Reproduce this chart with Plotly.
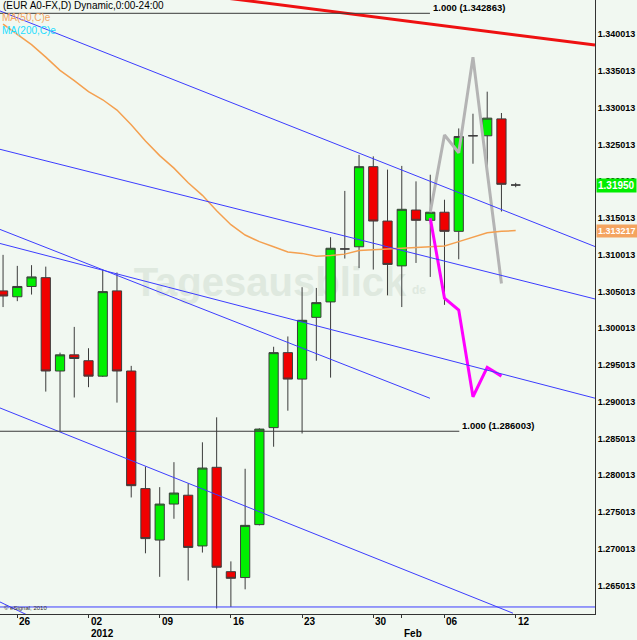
import plotly.graph_objects as go

# ---------------- data ----------------
dates = ["2011-12-23", "2011-12-26", "2011-12-27", "2011-12-28", "2011-12-29", "2011-12-30",
         "2012-01-02", "2012-01-03", "2012-01-04", "2012-01-05", "2012-01-06",
         "2012-01-09", "2012-01-10", "2012-01-11", "2012-01-12", "2012-01-13",
         "2012-01-16", "2012-01-17", "2012-01-18", "2012-01-19", "2012-01-20",
         "2012-01-23", "2012-01-24", "2012-01-25", "2012-01-26", "2012-01-27",
         "2012-01-30", "2012-01-31", "2012-02-01", "2012-02-02", "2012-02-03",
         "2012-02-06", "2012-02-07", "2012-02-08", "2012-02-09", "2012-02-10",
         "2012-02-13"]
opens = [1.3051, 1.3043, 1.3057, 1.3069, 1.2942, 1.2964,
         1.2956, 1.2935, 1.3051, 1.2942, 1.2782,
         1.2712, 1.2761, 1.2773, 1.2704, 1.2811,
         1.2669, 1.2661, 1.2733, 1.2865, 1.2967,
         1.2931, 1.3015, 1.3036, 1.3108, 1.3111,
         1.3220, 1.3146, 1.3085, 1.3161, 1.3147,
         1.3158, 1.3132, 1.3262, 1.3262, 1.3285,
         1.3195]
highs = [1.3100, 1.3085, 1.3086, 1.3084, 1.2967, 1.3002,
         1.2973, 1.3080, 1.3076, 1.2949, 1.2812,
         1.2784, 1.2818, 1.2789, 1.2845, 1.2879,
         1.2683, 1.2809, 1.2864, 1.2975, 1.2989,
         1.3056, 1.3055, 1.3124, 1.3187, 1.3236,
         1.3234, 1.3216, 1.3221, 1.3200, 1.3209,
         1.3175, 1.3272, 1.3292, 1.3322, 1.3293,
         1.3198]
lows = [1.3029, 1.3037, 1.3046, 1.2914, 1.2860, 1.2906,
        1.2920, 1.2934, 1.2899, 1.2770, 1.2694,
        1.2662, 1.2741, 1.2657, 1.2695, 1.2619,
        1.2621, 1.2645, 1.2732, 1.2839, 1.2888,
        1.2857, 1.2956, 1.2933, 1.3095, 1.3082,
        1.3080, 1.3045, 1.3029, 1.3089, 1.3070,
        1.3032, 1.3094, 1.3224, 1.3218, 1.3159,
        1.3192]
closes = [1.3044, 1.3057, 1.3070, 1.2942, 1.2964, 1.2959,
          1.2935, 1.3050, 1.2942, 1.2786, 1.2714,
          1.2761, 1.2776, 1.2702, 1.2810, 1.2675,
          1.2660, 1.2732, 1.2863, 1.2967, 1.2931,
          1.3011, 1.3035, 1.3109, 1.3108, 1.3220,
          1.3146, 1.3087, 1.3162, 1.3147, 1.3158,
          1.3132, 1.3261, 1.3262, 1.3286, 1.3196,
          1.3195]
ma50 = [1.3414, 1.3400, 1.3386, 1.3369, 1.3351, 1.3337,
        1.3322, 1.3311, 1.3297, 1.3277, 1.3255,
        1.3235, 1.3218, 1.3198, 1.3181, 1.3160,
        1.3141, 1.3127, 1.3118, 1.3111, 1.3104,
        1.3102, 1.3098, 1.3099, 1.3101, 1.3106,
        1.3107, 1.3108, 1.3108, 1.3109, 1.3110,
        1.3112, 1.3118, 1.3124, 1.3130, 1.3132,
        1.3133]

# projections (from Feb 3 to Feb 10)
proj_idx = [29, 30, 31, 32, 33, 34]
proj_grey = [1.3158, 1.3263, 1.3239, 1.3369, 1.3213, 1.3061]
proj_magenta = [1.3150, 1.3041, 1.3025, 1.2907, 1.2947, 1.2935]

# trend lines: (x0, p0, x1, p1) in bar-index / price units
blue_lines = [
    (-1.215, 1.34318, 40.57, 1.31113),
    (-1.215, 1.32436, 40.57, 1.30400),
    (-1.215, 1.31346, 28.98, 1.29049),
    (-1.215, 1.31155, 40.57, 1.29050),
    (-1.215, 1.28917, 34.81, 1.26125),
    (-1.215, 1.26278, 2.00, 1.25980),
    (-1.215, 1.26210, 40.57, 1.26210),
]
red_line = (10.0, 1.34609, 40.57, 1.33855)
fib_levels = [1.342863, 1.286003]
fib_end_idx = [28.98, 31.04]
fib_texts = ["1.000 (1.342863)", "1.000 (1.286003)"]

y_tick_labels = ["1.265013", "1.270013", "1.275013", "1.280013", "1.285013", "1.290013",
                 "1.295013", "1.300013", "1.305013", "1.310013", "1.315013", "1.320013",
                 "1.325013", "1.330013", "1.335013", "1.340013"]
x_tick_idx = [0, 5, 10, 15, 20, 25, 30, 35]
x_tick_text = ["26", "02", "09", "16", "23", "30", "06", "12"]
x_major_idx = [5, 27]
x_major_text = ["2012", "Feb"]

last_price = 1.3195
ma_last = 1.313217

# ---------------- figure ----------------
W, H = 637, 640
PL, PR, PT, PB = 0, 595, 0, 614
X_RANGE = [-1.215, 40.57]
Y_RANGE = [1.261143, 1.344672]
BG = "#F1F8F1"
FONT = "Liberation Sans"

def yp(ypx):
    return (PB - ypx) / (PB - PT)

def xp(xpx):
    return (xpx - PL) / (PR - PL)

x_idx = list(range(-1, len(dates) - 1))

fig = go.Figure()

# grey projection (behind candles)
fig.add_trace(go.Scatter(x=proj_idx, y=proj_grey, mode="lines",
                         line=dict(color="#B4B4B4", width=3), hoverinfo="skip", showlegend=False))
# MA50
fig.add_trace(go.Scatter(x=x_idx, y=ma50, mode="lines",
                         line=dict(color="#F4A050", width=1.5), hoverinfo="skip", showlegend=False))
# magenta projection
fig.add_trace(go.Scatter(x=proj_idx, y=proj_magenta, mode="lines",
                         line=dict(color="#FF00FF", width=3), hoverinfo="skip", showlegend=False))

# candles
fig.add_trace(go.Candlestick(
    x=x_idx, open=opens, high=highs, low=lows, close=closes,
    increasing=dict(fillcolor="#00F000", line=dict(color="#3C3C3C", width=1)),
    decreasing=dict(fillcolor="#F00000", line=dict(color="#3C3C3C", width=1)),
    whiskerwidth=0, hoverinfo="skip", showlegend=False))

# blue trend lines
for (x0, p0, x1, p1) in blue_lines:
    fig.add_trace(go.Scatter(x=[x0, x1], y=[p0, p1], mode="lines",
                             line=dict(color="#3C3CFF", width=1), hoverinfo="skip", showlegend=False))
# red line
fig.add_trace(go.Scatter(x=[red_line[0], red_line[2]], y=[red_line[1], red_line[3]], mode="lines",
                         line=dict(color="#EE1111", width=3), hoverinfo="skip", showlegend=False))
# fib lines
for lvl, xe in zip(fib_levels, fib_end_idx):
    fig.add_trace(go.Scatter(x=[X_RANGE[0], xe], y=[lvl, lvl], mode="lines",
                             line=dict(color="#3A3A3A", width=1), hoverinfo="skip", showlegend=False))

annotations = []
# title & legend
annotations.append(dict(xref="paper", yref="paper", x=xp(1), y=yp(5.5), xanchor="left", yanchor="middle",
                        text="(EUR A0-FX,D) Dynamic,0:00-24:00", showarrow=False,
                        font=dict(family=FONT, size=10, color="#000000")))
annotations.append(dict(xref="paper", yref="paper", x=xp(0), y=yp(17.5), xanchor="left", yanchor="middle",
                        text="MA(50,C)e", showarrow=False,
                        font=dict(family=FONT, size=10, color="#F4A460")))
annotations.append(dict(xref="paper", yref="paper", x=xp(0), y=yp(30), xanchor="left", yanchor="middle",
                        text="MA(200,C)e", showarrow=False,
                        font=dict(family=FONT, size=10, color="#22DDFF")))
# fib labels
for lvl, xe, t in zip(fib_levels, fib_end_idx, fib_texts):
    annotations.append(dict(xref="x", yref="y", x=xe, y=lvl, xanchor="left", yanchor="middle",
                            xshift=1, yshift=6, text=t, showarrow=False,
                            font=dict(family=FONT, size=9.5, color="#000000", weight="bold")))
# copyright
annotations.append(dict(xref="paper", yref="paper", x=xp(2), y=yp(608), xanchor="left", yanchor="middle",
                        text="© eSignal, 2010", showarrow=False,
                        font=dict(family=FONT, size=6, color="#333333")))
# x tick labels (left aligned at ticks)
for xi, t in zip(x_tick_idx, x_tick_text):
    annotations.append(dict(xref="x", yref="paper", x=xi, y=yp(621.7), xanchor="left", yanchor="middle",
                            text=t, showarrow=False,
                            font=dict(family=FONT, size=10, color="#000000", weight="bold")))
for xi, t in zip(x_major_idx, x_major_text):
    annotations.append(dict(xref="x", yref="paper", x=xi, y=yp(633.3), xanchor="left", yanchor="middle",
                            text=t, showarrow=False,
                            font=dict(family=FONT, size=10, color="#000000", weight="bold")))
# price boxes on the axis
annotations.append(dict(xref="paper", yref="y", x=1, y=last_price, xanchor="left", yanchor="middle",
                        xshift=1, text="%.5f" % last_price, showarrow=False, bgcolor="#00EE00", borderpad=1,
                        font=dict(family=FONT, size=10, color="#FFFFFF", weight="bold")))
annotations.append(dict(xref="paper", yref="y", x=1, y=ma_last, xanchor="left", yanchor="middle",
                        xshift=1, text="%.6f" % ma_last, showarrow=False, bgcolor="#F4A460", borderpad=1,
                        font=dict(family=FONT, size=9, color="#FFFFFF", weight="bold")))

shapes = [
    dict(type="rect", xref="paper", yref="paper", x0=xp(138), x1=xp(402), y0=yp(300), y1=yp(256),
         layer="below", line=dict(width=0), fillcolor="rgba(0,0,0,0)",
         label=dict(text="Tagesausblick", textposition="middle center",
                    font=dict(family=FONT, size=40, color="#DFE9DF", weight="bold"))),
    dict(type="rect", xref="paper", yref="paper", x0=xp(408), x1=xp(430), y0=yp(296), y1=yp(282),
         layer="below", line=dict(width=0), fillcolor="rgba(0,0,0,0)",
         label=dict(text="de", textposition="middle center",
                    font=dict(family=FONT, size=12, color="#DFE9DF", weight="bold"))),
]

fig.update_layout(
    width=W, height=H,
    margin=dict(l=PL, r=W - PR, t=PT, b=H - PB, pad=0, autoexpand=False),
    paper_bgcolor=BG, plot_bgcolor=BG,
    showlegend=False,
    boxgap=0.1, boxgroupgap=0.28,
    annotations=annotations,
    shapes=shapes,
    xaxis=dict(range=X_RANGE, showgrid=False, zeroline=False, rangeslider=dict(visible=False),
               showline=True, linecolor="#333333", linewidth=1, automargin=False,
               tickmode="array", tickvals=x_tick_idx + [27], ticks="outside", ticklen=3,
               tickcolor="#333333", showticklabels=False, fixedrange=True),
    yaxis=dict(range=Y_RANGE, side="right", showgrid=False, zeroline=False,
               showline=True, linecolor="#333333", linewidth=1, automargin=False,
               tickmode="array", tickvals=[float(s) for s in y_tick_labels], ticktext=y_tick_labels,
               ticks="", tickfont=dict(family=FONT, size=9, color="#000000", weight="bold"),
               fixedrange=True),
)

fig.write_html(
    "out.html",
    config={"displayModeBar": False},
    post_script="document.body.style.margin='0';document.body.style.padding='0';"
                "document.body.style.background='" + BG + "';",
)
